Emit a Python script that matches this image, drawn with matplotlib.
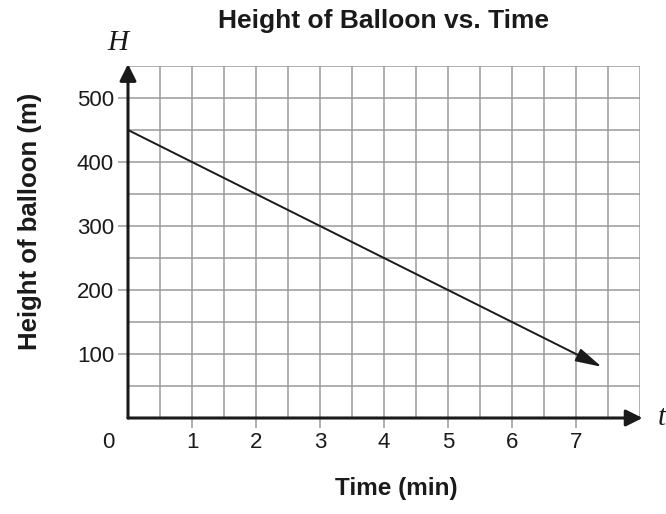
"""Height of balloon vs time"""

import matplotlib
matplotlib.use("Agg")
import matplotlib.pyplot as plt
import matplotlib.transforms as mtransforms
import numpy as np

plt.rcParams["font.family"] = ["Liberation Sans", "DejaVu Sans"]

# data
t_line = [0.0, 7.4]
h_line = [450, 80]
x_ticks = [0, 1, 2, 3, 4, 5, 6, 7]
y_ticks = [100, 200, 300, 400, 500]

fig = plt.figure(figsize=(6.66, 5.14), dpi=100)
ax = fig.add_axes([128 / 666, 96 / 514, 512 / 666, 352 / 514])
ax.set_xlim(0, 8)
ax.set_ylim(0, 550)

# grid every half minute / 50 m
for gx in np.arange(0.5, 8.01, 0.5):
    ax.axvline(gx, color="#9a9a9a", lw=1.1, zorder=1)
for gy in np.arange(50, 551, 50):
    ax.axhline(gy, color="#9a9a9a", lw=1.1, zorder=1)

for s in ax.spines.values():
    s.set_visible(False)

# axes with arrows
axis_arrow = dict(arrowstyle="-|>,head_length=1.0,head_width=0.5",
                  color="#1a1a1a", lw=2.2, shrinkA=0, shrinkB=0)
ax.annotate("", xy=(8.04, 0), xytext=(0, 0), xycoords="data",
            arrowprops=axis_arrow, annotation_clip=False, zorder=5)
ax.annotate("", xy=(0, 553), xytext=(0, 0), xycoords="data",
            arrowprops=axis_arrow, annotation_clip=False, zorder=5)

# the line
ax.annotate("", xy=(t_line[1], h_line[1]), xytext=(t_line[0], h_line[0]),
            arrowprops=dict(arrowstyle="-|>,head_length=1.6,head_width=0.42",
                            color="#1a1a1a", lw=1.4, shrinkA=0, shrinkB=0),
            zorder=6)

ax.set_xticks(x_ticks)
ax.set_xticklabels([str(v) for v in x_ticks])
ax.set_yticks(y_ticks)
ax.set_yticklabels([str(v) for v in y_ticks])
ax.tick_params(axis="x", length=7, width=1.1, color="#9a9a9a",
               pad=3, labelsize=16, labelcolor="#1a1a1a")
ax.tick_params(axis="y", length=7, width=1.1, color="#9a9a9a",
               pad=3, labelsize=16, labelcolor="#1a1a1a")
# the origin label sits left of the corner, no tick
tick0 = ax.xaxis.get_major_ticks()[0]
tick0.tick1line.set_visible(False)
tick0.label1.set_transform(tick0.label1.get_transform() +
                           mtransforms.ScaledTranslation(-20 / 100, 0,
                                                         fig.dpi_scale_trans))

ax.set_title("Height of Balloon vs. Time", fontsize=19, fontweight="bold",
             y=(418 - 28) / 352, pad=0, va="baseline", color="#1a1a1a")
ax.set_xlabel("Time (min)", fontsize=17.5, fontweight="bold",
              color="#1a1a1a")
ax.xaxis.set_label_coords(0.525, -0.168)
ax.set_ylabel("Height of balloon (m)", fontsize=18.5, fontweight="bold",
              color="#1a1a1a")
ax.yaxis.set_label_coords(-0.168, 0.56)

ax.text(-0.16, 575, "H", fontsize=21, ha="center", va="baseline",
        family="Liberation Serif", style="italic", color="#1a1a1a")
ax.text(8.27, -11, "t", fontsize=21, ha="left", va="baseline",
        family="Liberation Serif", style="italic", color="#1a1a1a")

fig.savefig("out.png", dpi=100)
